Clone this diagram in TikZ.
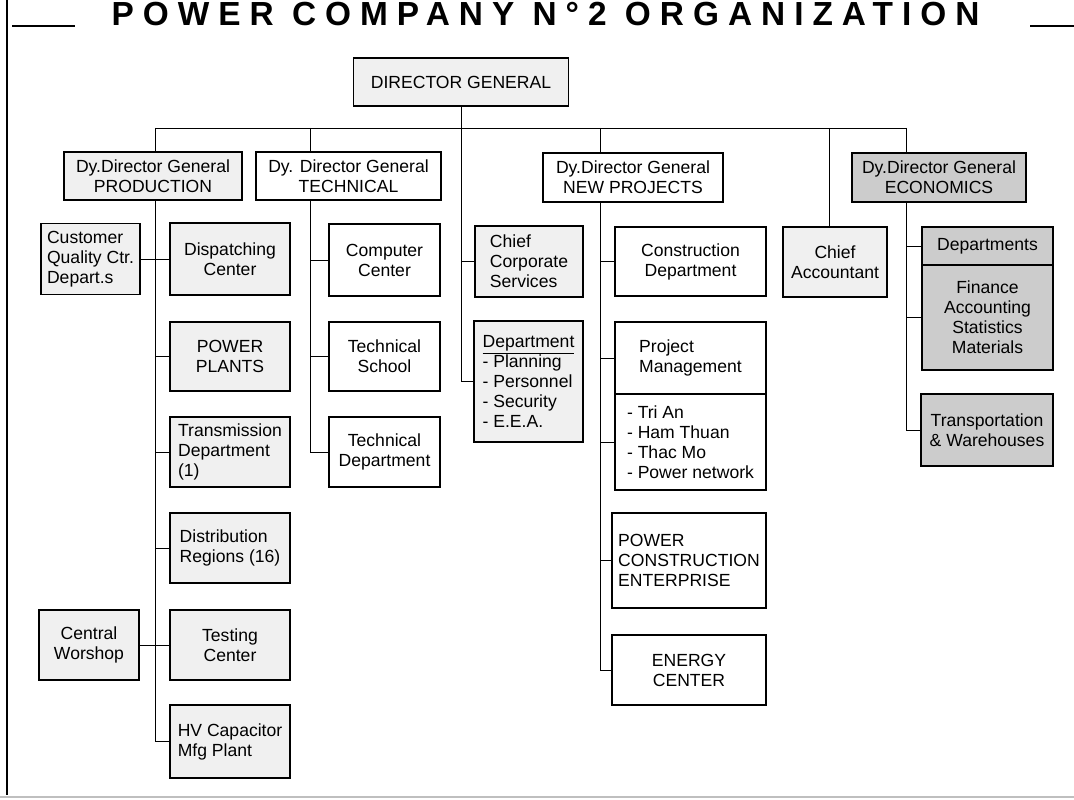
\documentclass[tikz,border=0pt]{standalone}
\usepackage{fontspec}
\setmainfont{Liberation Sans}
\usetikzlibrary{backgrounds}

\begin{document}
\begin{tikzpicture}[
    font=\fontsize{10pt}{11.4pt}\selectfont,
    box/.style={draw, line width=1.1pt, fill=white, align=center, inner sep=2pt},
    lightbox/.style={box, fill=gray!12},
    darkbox/.style={box, fill=gray!40},
    link/.style={line width=0.8pt}
]
    \useasboundingbox (0,0) rectangle (21.48,-16);

    % heading
    \node[anchor=base, inner sep=0pt, font=\fontsize{19pt}{19pt}\selectfont\bfseries\addfontfeature{LetterSpace=27}] (title) at (10.91,-0.52) {POWER COMPANY N°2 ORGANIZATION};
    \draw[line width=1pt] (0.24,-0.52) -- (1.5,-0.52);
    \draw[line width=1pt] (20.6,-0.52) -- (21.48,-0.52);
    \draw[line width=1.4pt] (0.14,0) -- (0.14,-15.9);
    \draw[gray!50, line width=1pt] (0,-15.94) -- (21.48,-15.94);

    % top
    \node[lightbox, minimum width=4.3cm, minimum height=0.96cm] (dg) at (9.22,-1.64) {DIRECTOR GENERAL};

    % deputies
    \node[lightbox, minimum width=3.56cm, minimum height=0.96cm] (prod) at (3.06,-3.52) {Dy.Director General\\PRODUCTION};
    \node[box, minimum width=3.7cm, minimum height=0.96cm] (tech) at (6.97,-3.52) {Dy. Director General\\TECHNICAL};
    \node[box, minimum width=3.6cm, minimum height=0.98cm] (np) at (12.66,-3.55) {Dy.Director General\\NEW PROJECTS};
    \node[darkbox, minimum width=3.48cm, minimum height=0.98cm] (econ) at (18.78,-3.55) {Dy.Director General\\ECONOMICS};

    % production
    \node[lightbox, align=left, minimum width=1.98cm, minimum height=1.42cm] (cust) at (1.81,-5.18) {Customer\\Quality Ctr.\\Depart.s};
    \node[lightbox, minimum width=2.4cm, minimum height=1.44cm] (disp) at (4.6,-5.18) {Dispatching\\Center};
    \node[lightbox, minimum width=2.4cm, minimum height=1.38cm] (plants) at (4.6,-7.13) {POWER\\PLANTS};
    \node[lightbox, align=left, minimum width=2.4cm, minimum height=1.4cm] (trans) at (4.6,-9.04) {Transmission\\Department\\(1)};
    \node[lightbox, align=left, minimum width=2.4cm, minimum height=1.4cm] (dist) at (4.6,-10.96) {Distribution\\Regions (16)};
    \node[lightbox, minimum width=2.4cm, minimum height=1.4cm] (test) at (4.6,-12.9) {Testing\\Center};
    \node[lightbox, align=left, minimum width=2.4cm, minimum height=1.46cm] (hv) at (4.6,-14.83) {HV Capacitor\\Mfg Plant};
    \node[lightbox, minimum width=2cm, minimum height=1.4cm] (cws) at (1.78,-12.9) {Central\\Worshop};

    % technical
    \node[box, minimum width=2.22cm, minimum height=1.44cm] (comp) at (7.69,-5.2) {Computer\\Center};
    \node[box, minimum width=2.22cm, minimum height=1.38cm] (school) at (7.69,-7.13) {Technical\\School};
    \node[box, minimum width=2.22cm, minimum height=1.4cm] (tdept) at (7.69,-9.04) {Technical\\Department};

    % under the director general
    \node[lightbox, align=left, minimum width=2.16cm, minimum height=1.42cm] (ccs) at (10.58,-5.23) {Chief\\Corporate\\Services};
    \node[lightbox, align=left, minimum width=2.18cm, minimum height=2.42cm] (dept) at (10.57,-7.63) {\underline{Department}\\- Planning\\- Personnel\\- Security\\- E.E.A.};

    % new projects
    \node[box, minimum width=3.02cm, minimum height=1.38cm] (cons) at (13.81,-5.23) {Construction\\Department};
    \node[box, align=left, minimum width=3.02cm, minimum height=1.44cm] (pm) at (13.81,-7.16) {Project\\Management};
    \node[box, align=left, minimum width=3.02cm, minimum height=1.92cm] (pmlist) at (13.81,-8.84) {- Tri An\\- Ham Thuan\\- Thac Mo\\- Power network};
    \node[box, align=left, minimum width=3.08cm, minimum height=1.9cm] (pce) at (13.78,-11.21) {POWER\\CONSTRUCTION\\ENTERPRISE};
    \node[box, minimum width=3.08cm, minimum height=1.4cm] (energy) at (13.78,-13.4) {ENERGY\\CENTER};

    % economics
    \node[lightbox, minimum width=2.08cm, minimum height=1.4cm] (acct) at (16.7,-5.24) {Chief\\Accountant};
    \node[darkbox, minimum width=2.62cm, minimum height=0.76cm] (deps) at (19.75,-4.92) {Departments};
    \node[darkbox, minimum width=2.62cm, minimum height=2.1cm] (depslist) at (19.75,-6.35) {Finance\\Accounting\\Statistics\\Materials};
    \node[darkbox, minimum width=2.64cm, minimum height=1.44cm] (tw) at (19.74,-8.6) {Transportation\\\& Warehouses};

    % trunks on the bus line
    \coordinate (tA) at (3.1,-2.56);
    \coordinate (tB) at (6.2,-2.56);
    \coordinate (tD) at (12,-2.56);
    \coordinate (tE) at (16.58,-2.56);
    \coordinate (tF) at (18.12,-2.56);

    \begin{scope}[on background layer, link]
        \draw (tA) -- (tF);
        \draw (dg.south) |- (dept.west);
        \draw (ccs.west) -- (ccs.west -| dg.south);

        \draw (tA) |- (hv.west);
        \draw (cust.east) -- (disp.west);
        \draw (plants.west) -- (plants.west -| tA);
        \draw (trans.west) -- (trans.west -| tA);
        \draw (dist.west) -- (dist.west -| tA);
        \draw (cws.east) -- (test.west);

        \draw (tB) |- (tdept.west);
        \draw (comp.west) -- (comp.west -| tB);
        \draw (school.west) -- (school.west -| tB);

        \draw (tD) |- (energy.west);
        \draw (cons.west) -- (cons.west -| tD);
        \draw (pm.west) -- (pm.west -| tD);
        \draw (pmlist.west) -- (pmlist.west -| tD);
        \draw (pce.west) -- (pce.west -| tD);

        \draw (tE) -- (tE |- acct.north);
        \draw (tF) |- (tw.west);
        \draw (deps.west) -- (deps.west -| tF);
        \draw (depslist.west) -- (depslist.west -| tF);
    \end{scope}
\end{tikzpicture}
\end{document}
